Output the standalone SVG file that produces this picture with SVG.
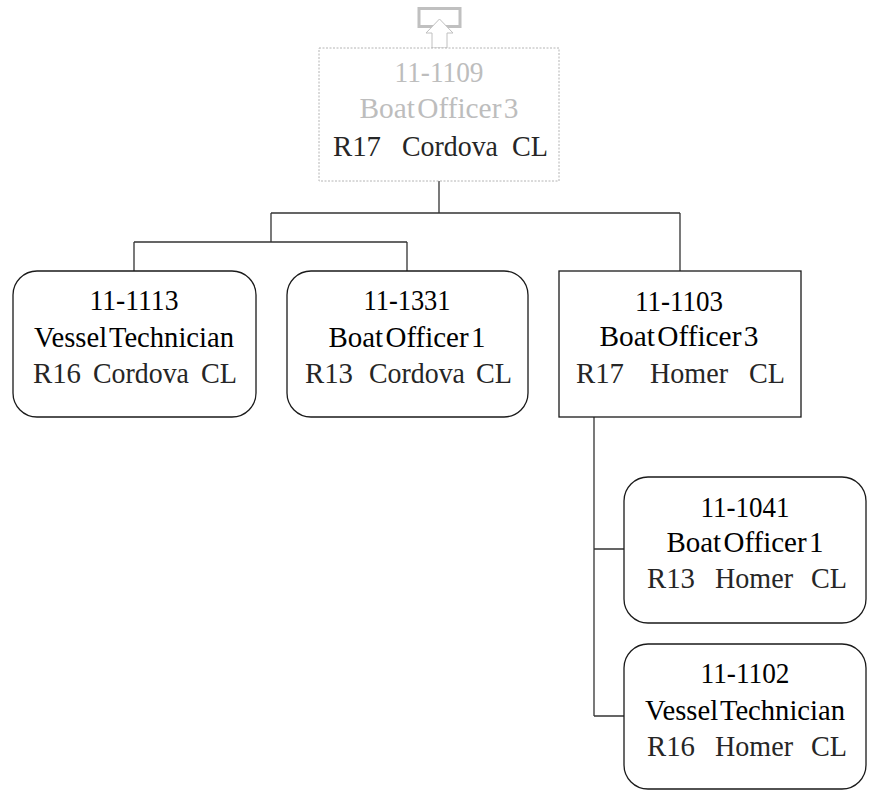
<svg xmlns="http://www.w3.org/2000/svg" width="873" height="793" viewBox="0 0 873 793">
<style>
  .box { fill: #ffffff; stroke: #1a1a1a; stroke-width: 1.3; }
  .top { fill: #ffffff; stroke: #b4b4b4; stroke-width: 1; stroke-dasharray: 2 1.5; }
  .t { font-family: "Liberation Serif", "Times New Roman", serif; font-size: 30px; fill: #000000; }
  .m { text-anchor: middle; }
  .w { word-spacing: -5px; }
  .g { fill: #bdbdbd; }
  .d { fill: #262626; }
  .conn { fill: none; stroke: #333333; stroke-width: 1.3; }
</style>
<rect width="873" height="793" fill="#ffffff"/>
<g id="connectors">
  <path class="conn" d="M439 181 V213 M271 213 H680 M271 213 V242 M134 242 H407 M134 242 V271 M407 242 V271 M680 213 V271"/>
  <path class="conn" d="M594 417 V716 M594 549 H624 M594 716 H624"/>
</g>
<g id="up-icon">
  <rect x="419" y="8.5" width="41" height="18" fill="#ffffff" stroke="#c0c0c0" stroke-width="3"/>
  <path d="M439.5 19 L453 33 L447 33 L447 48 L432 48 L432 33 L426 33 Z" fill="#ffffff" stroke="#c0c0c0" stroke-width="1"/>
</g>
<g id="n11-1109">
  <rect class="top" x="319" y="48" width="240" height="133"/>
  <text class="t m g" x="439" y="82" textLength="89" lengthAdjust="spacingAndGlyphs">11-1109</text>
  <text class="t m g w" x="439" y="118" textLength="159" lengthAdjust="spacingAndGlyphs">Boat Officer 3</text>
  <text class="t d" x="333" y="156" textLength="48" lengthAdjust="spacingAndGlyphs">R17</text>
  <text class="t d" x="402" y="156" textLength="96" lengthAdjust="spacingAndGlyphs">Cordova</text>
  <text class="t d" x="512" y="156" textLength="36" lengthAdjust="spacingAndGlyphs">CL</text>
</g>
<g id="n11-1113">
  <rect class="box" x="13" y="271" width="243" height="146" rx="24"/>
  <text class="t m" x="134" y="310" textLength="89" lengthAdjust="spacingAndGlyphs">11-1113</text>
  <text class="t m w" x="134" y="347" textLength="200" lengthAdjust="spacingAndGlyphs">Vessel Technician</text>
  <text class="t d" x="33" y="383" textLength="48" lengthAdjust="spacingAndGlyphs">R16</text>
  <text class="t d" x="93" y="383" textLength="96" lengthAdjust="spacingAndGlyphs">Cordova</text>
  <text class="t d" x="201" y="383" textLength="36" lengthAdjust="spacingAndGlyphs">CL</text>
</g>
<g id="n11-1331">
  <rect class="box" x="287" y="271" width="241" height="146" rx="24"/>
  <text class="t m" x="407" y="310" textLength="87" lengthAdjust="spacingAndGlyphs">11-1331</text>
  <text class="t m w" x="407" y="347" textLength="157" lengthAdjust="spacingAndGlyphs">Boat Officer 1</text>
  <text class="t d" x="305" y="383" textLength="48" lengthAdjust="spacingAndGlyphs">R13</text>
  <text class="t d" x="369" y="383" textLength="96" lengthAdjust="spacingAndGlyphs">Cordova</text>
  <text class="t d" x="476" y="383" textLength="36" lengthAdjust="spacingAndGlyphs">CL</text>
</g>
<g id="n11-1103">
  <rect class="box" x="559" y="271" width="242" height="146"/>
  <text class="t m" x="679" y="311" textLength="88" lengthAdjust="spacingAndGlyphs">11-1103</text>
  <text class="t m w" x="679" y="346" textLength="159" lengthAdjust="spacingAndGlyphs">Boat Officer 3</text>
  <text class="t d" x="576" y="383" textLength="48" lengthAdjust="spacingAndGlyphs">R17</text>
  <text class="t d" x="650" y="383" textLength="78" lengthAdjust="spacingAndGlyphs">Homer</text>
  <text class="t d" x="749" y="383" textLength="36" lengthAdjust="spacingAndGlyphs">CL</text>
</g>
<g id="n11-1041">
  <rect class="box" x="624" y="477" width="242" height="146" rx="24"/>
  <text class="t m" x="745" y="517" textLength="89" lengthAdjust="spacingAndGlyphs">11-1041</text>
  <text class="t m w" x="745" y="552" textLength="157" lengthAdjust="spacingAndGlyphs">Boat Officer 1</text>
  <text class="t d" x="647" y="588" textLength="48" lengthAdjust="spacingAndGlyphs">R13</text>
  <text class="t d" x="715" y="588" textLength="78" lengthAdjust="spacingAndGlyphs">Homer</text>
  <text class="t d" x="811" y="588" textLength="36" lengthAdjust="spacingAndGlyphs">CL</text>
</g>
<g id="n11-1102">
  <rect class="box" x="624" y="644" width="242" height="145" rx="24"/>
  <text class="t m" x="745" y="683" textLength="89" lengthAdjust="spacingAndGlyphs">11-1102</text>
  <text class="t m w" x="745" y="720" textLength="200" lengthAdjust="spacingAndGlyphs">Vessel Technician</text>
  <text class="t d" x="647" y="756" textLength="48" lengthAdjust="spacingAndGlyphs">R16</text>
  <text class="t d" x="715" y="756" textLength="78" lengthAdjust="spacingAndGlyphs">Homer</text>
  <text class="t d" x="811" y="756" textLength="36" lengthAdjust="spacingAndGlyphs">CL</text>
</g>
</svg>
